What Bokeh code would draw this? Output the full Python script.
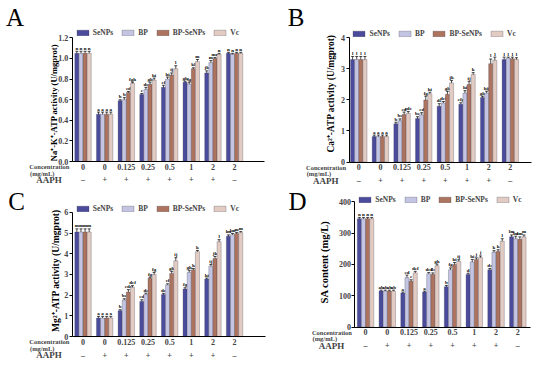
import math
from bokeh.plotting import figure
from bokeh.models import (ColumnDataSource, Whisker, TeeHead, Legend, LegendItem,
                          LinearAxis, FixedTicker, NumeralTickFormatter, Label, Range1d)
from bokeh.layouts import column, row
from bokeh.embed import file_html
from bokeh.resources import INLINE
from bokeh.core.properties import value

series = ["SeNPs", "BP", "BP-SeNPs", "Vc"]
colors = ["#4B4B9B", "#C3C5E2", "#AC735F", "#E2CBC2"]
conc_labels = ["0", "0", "0.125", "0.25", "0.5", "1", "2", "2"]
aaph_labels = ["\u2013", "+", "+", "+", "+", "+", "+", "\u2013"]

# Panel A: Na+-K+-ATP activity
a_senps = [1.05, 0.46, 0.59, 0.65, 0.72, 0.77, 0.86, 1.05]
a_bp = [1.05, 0.46, 0.60, 0.70, 0.80, 0.75, 0.96, 1.04]
a_bpsenps = [1.05, 0.46, 0.67, 0.75, 0.84, 0.90, 1.00, 1.05]
a_vc = [1.05, 0.46, 0.76, 0.79, 0.90, 0.97, 1.04, 1.05]
a_err_senps = [0.02, 0.02, 0.01, 0.01, 0.02, 0.01, 0.02, 0.01]
a_err_bp = [0.02, 0.02, 0.02, 0.02, 0.02, 0.02, 0.02, 0.01]
a_err_bpsenps = [0.02, 0.02, 0.01, 0.02, 0.02, 0.01, 0.01, 0.01]
a_err_vc = [0.02, 0.02, 0.01, 0.02, 0.03, 0.02, 0.01, 0.01]
a_let_senps = ["n", "a", "b", "c", "ef", "gh", "jk", "n"]
a_let_bp = ["n", "a", "b", "de", "hi", "fg", "m", "n"]
a_let_bpsenps = ["n", "a", "cd", "gh", "ij", "kl", "mn", "n"]
a_let_vc = ["n", "a", "fgh", "hi", "l", "m", "n", "n"]

# Panel B: Ca2+-ATP activity
b_senps = [3.30, 0.82, 1.23, 1.40, 1.80, 1.86, 2.08, 3.30]
b_bp = [3.30, 0.82, 1.33, 1.52, 1.90, 2.22, 2.22, 3.35]
b_bpsenps = [3.30, 0.82, 1.53, 2.00, 2.18, 2.50, 3.17, 3.33]
b_vc = [3.30, 0.82, 1.57, 2.20, 2.55, 2.82, 3.28, 3.30]
b_err_senps = [0.10, 0.05, 0.05, 0.06, 0.08, 0.05, 0.04, 0.08]
b_err_bp = [0.10, 0.05, 0.06, 0.07, 0.05, 0.08, 0.06, 0.03]
b_err_bpsenps = [0.10, 0.05, 0.08, 0.12, 0.10, 0.10, 0.15, 0.05]
b_err_vc = [0.10, 0.05, 0.06, 0.05, 0.08, 0.06, 0.10, 0.06]
b_let_senps = ["l", "a", "b", "bc", "de", "efg", "gh", "l"]
b_let_bp = ["l", "a", "bc", "cd", "def", "hi", "hij", "l"]
b_let_bpsenps = ["l", "a", "cd", "fg", "gh", "ij", "l", "l"]
b_let_vc = ["l", "a", "cde", "hi", "jk", "k", "l", "l"]

# Panel C: Mg2+-ATP activity
c_senps = [5.05, 0.90, 1.25, 1.70, 2.03, 2.30, 2.78, 4.85]
c_bp = [5.05, 0.90, 1.77, 2.05, 2.50, 3.10, 3.40, 4.92]
c_bpsenps = [5.05, 0.90, 2.15, 2.82, 3.05, 3.23, 3.77, 4.98]
c_vc = [5.05, 0.90, 2.38, 3.00, 3.66, 4.10, 4.58, 5.02]
c_err_senps = [0.15, 0.08, 0.05, 0.08, 0.06, 0.06, 0.05, 0.06]
c_err_bp = [0.15, 0.08, 0.06, 0.05, 0.05, 0.10, 0.08, 0.06]
c_err_bpsenps = [0.15, 0.08, 0.12, 0.05, 0.10, 0.06, 0.10, 0.05]
c_err_vc = [0.15, 0.08, 0.08, 0.10, 0.15, 0.06, 0.10, 0.05]
c_let_senps = ["m", "a", "b", "cd", "de", "fg", "hi", "lm"]
c_let_bp = ["m", "a", "bc", "de", "ef", "gh", "ij", "lm"]
c_let_bpsenps = ["m", "a", "cde", "fg", "gh", "h", "jk", "m"]
c_let_vc = ["m", "a", "def", "fg", "ij", "k", "l", "m"]

# Panel D: SA content
d_senps = [346, 115, 109, 112, 129, 168, 183, 288]
d_bp = [346, 115, 158, 170, 183, 208, 239, 282]
d_bpsenps = [346, 115, 146, 168, 200, 216, 241, 280]
d_vc = [346, 115, 173, 196, 210, 222, 274, 288]
d_err_senps = [4, 3, 3, 3, 4, 4, 4, 6]
d_err_bp = [4, 3, 8, 4, 6, 8, 5, 8]
d_err_bpsenps = [4, 3, 5, 5, 6, 5, 6, 8]
d_err_vc = [4, 3, 5, 5, 5, 5, 8, 6]
d_let_senps = ["n", "ab", "a", "a", "b", "d", "de", "lm"]
d_let_bp = ["n", "ab", "cd", "def", "fg", "hi", "k", "lm"]
d_let_bpsenps = ["n", "ab", "c", "de", "hi", "j", "k", "lm"]
d_let_vc = ["n", "ab", "def", "gh", "ij", "j", "l", "m"]

SERIF = "Liberation Serif"
offsets = [-0.285, -0.095, 0.095, 0.285]
BAR_W = 0.19
PW = 267
RW = 275.0


def make_panel(letter, ylabel, vals, errs, lets, ymax, yticks, yfmt, geom, PH, RH):
    # geom in reference-panel pixels
    (xl, g0, gs, yt, yb, xr, let_xy, leg_cy, lab_dx, lab_cy, lab_fs) = geom
    SX, SY = PW / RW, PH / RH
    ppu = (yb - yt) / ymax

    def X(rx):
        return (rx - g0) / gs

    def Y(ry):
        return (yb - ry) / ppu

    p = figure(width=PW, height=PH, title=None,
               x_range=Range1d(X(0), X(RW)), y_range=Range1d(Y(RH), Y(0)),
               output_backend="svg", toolbar_location=None, min_border=0)
    p.outline_line_color = None
    p.xgrid.grid_line_color = None
    p.ygrid.grid_line_color = None

    # y axis
    yax = p.yaxis[0]
    yax.fixed_location = X(xl)
    yax.bounds = (0, ymax)
    yax.ticker = FixedTicker(ticks=yticks)
    if yfmt:
        yax.formatter = NumeralTickFormatter(format=yfmt)
    yax.major_label_text_font = SERIF
    yax.major_label_text_font_style = "bold"
    yax.major_label_text_font_size = "8px"
    yax.major_label_standoff = 1
    yax.major_tick_out = 3
    yax.major_tick_in = 0
    yax.minor_tick_line_color = None
    yax.axis_line_color = "black"
    yax.major_tick_line_color = "black"

    # y axis title
    p.add_layout(Label(x=X(xl + lab_dx), y=Y(lab_cy), text=ylabel, angle=math.pi / 2,
                       text_align="center", text_baseline="middle",
                       text_font=SERIF, text_font_style="bold",
                       text_font_size=f"{lab_fs}px", text_color="black"))

    # x axis (concentration) at y = 0
    xax = p.xaxis[0]
    xax.fixed_location = 0
    xax.bounds = (X(xl), X(xr))
    xax.ticker = FixedTicker(ticks=list(range(len(conc_labels))))
    xax.major_label_overrides = {i: t for i, t in enumerate(conc_labels)}
    xax.major_label_text_font = SERIF
    xax.major_label_text_font_style = "bold"
    xax.major_label_text_font_size = "8px"
    xax.major_label_standoff = 2
    xax.major_tick_line_color = None
    xax.major_tick_out = 0
    xax.minor_tick_line_color = None
    xax.axis_line_color = "black"

    # AAPH row
    ax2 = LinearAxis(ticker=FixedTicker(ticks=list(range(len(aaph_labels)))),
                     fixed_location=Y(yb + 13.5),
                     major_label_overrides={i: t for i, t in enumerate(aaph_labels)},
                     axis_line_color=None, major_tick_line_color=None,
                     minor_tick_line_color=None, major_tick_out=0,
                     major_label_standoff=1,
                     major_label_text_font=SERIF, major_label_text_font_style="bold",
                     major_label_text_font_size="8px")
    p.add_layout(ax2, "below")

    items = []
    for k, s in enumerate(series):
        xs = [i + offsets[k] for i in range(len(vals[k]))]
        src = ColumnDataSource(dict(
            x=xs, top=vals[k],
            upper=[v + e for v, e in zip(vals[k], errs[k])],
            lower=[v - e for v, e in zip(vals[k], errs[k])],
            lab=lets[k]))
        r = p.vbar(x="x", top="top", bottom=0, width=BAR_W, source=src,
                   fill_color=colors[k], line_color="#3a3a4a", line_width=0.4,
                   line_alpha=0.7)
        p.add_layout(Whisker(source=src, base="x", upper="upper", lower="lower",
                             line_color="black", line_width=0.7,
                             upper_head=TeeHead(size=3, line_color="black", line_width=0.7),
                             lower_head=TeeHead(size=3, line_color="black", line_width=0.7)))
        p.text(x="x", y="upper", text="lab", source=src, text_align="center",
               text_baseline="bottom", text_font=value(SERIF), text_font_style="bold",
               text_font_size="5px", text_color="black", y_offset=-0.5)
        items.append(LegendItem(label=s, renderers=[r]))

    leg_h = 9
    legend = Legend(items=items, orientation="horizontal",
                    location=((xl + 3) * SX, (RH - leg_cy) * SY - leg_h / 2),
                    margin=0, padding=0, spacing=7, label_standoff=3,
                    glyph_width=15, glyph_height=7, label_height=7, label_width=0,
                    label_text_font=SERIF, label_text_font_style="bold",
                    label_text_font_size="7.5px", border_line_alpha=0,
                    background_fill_alpha=0)
    p.add_layout(legend, "center")

    # panel letter
    p.add_layout(Label(x=X(let_xy[0]), y=Y(let_xy[1]), text=letter,
                       text_align="center", text_baseline="middle",
                       text_font=SERIF, text_font_size="25px", text_color="black"))
    # row captions
    p.add_layout(Label(x=X(xl - 3), y=Y(yb + 5.5), text="Concentration",
                       text_align="right", text_baseline="middle",
                       text_font=SERIF, text_font_style="bold", text_font_size="6.5px"))
    p.add_layout(Label(x=X(xl - 31), y=Y(yb + 12), text="(mg/mL)",
                       text_align="center", text_baseline="middle",
                       text_font=SERIF, text_font_style="bold", text_font_size="6.5px"))
    p.add_layout(Label(x=X(xl - 24), y=Y(yb + 19.5), text="AAPH",
                       text_align="center", text_baseline="middle",
                       text_font=SERIF, text_font_style="bold", text_font_size="9px"))
    return p


# geometry (reference panel pixels): axis x, first group x, group step, y of top tick,
# y of zero, x-axis end, letter centre, legend centre y, y-title dx, y-title centre y, size
TOP_RH, BOT_RH = 193.0, 185.0
TOP_PH, BOT_PH = 185, 177
geomA = (74, 85, 22.3, 39, 168, 272, (15, 18), 34, -19, 106.5, 8.5)
geomB = (84, 94, 22.3, 39, 168.5, 272, (29.5, 18), 35, -19, 97, 9.4)
geomC = (74, 85, 22.3, 28, 158, 273, (16.5, 16.5), 25, -17, 89, 9.6)
geomD = (90, 101, 22.4, 17, 148, 271, (31, 16.5), 15, -31, 80, 10.5)

pA = make_panel("A", "Na\u207a-K\u207a-ATP activity (U/mgprot)",
                [a_senps, a_bp, a_bpsenps, a_vc],
                [a_err_senps, a_err_bp, a_err_bpsenps, a_err_vc],
                [a_let_senps, a_let_bp, a_let_bpsenps, a_let_vc],
                1.2, [0, 0.2, 0.4, 0.6, 0.8, 1.0, 1.2], "0.0", geomA, TOP_PH, TOP_RH)
pB = make_panel("B", "Ca\u00b2\u207a-ATP activity (U/mgprot)",
                [b_senps, b_bp, b_bpsenps, b_vc],
                [b_err_senps, b_err_bp, b_err_bpsenps, b_err_vc],
                [b_let_senps, b_let_bp, b_let_bpsenps, b_let_vc],
                4, [0, 1, 2, 3, 4], None, geomB, TOP_PH, TOP_RH)
pC = make_panel("C", "Mg\u00b2\u207a-ATP activity (U/mgprot)",
                [c_senps, c_bp, c_bpsenps, c_vc],
                [c_err_senps, c_err_bp, c_err_bpsenps, c_err_vc],
                [c_let_senps, c_let_bp, c_let_bpsenps, c_let_vc],
                6, [0, 1, 2, 3, 4, 5, 6], None, geomC, BOT_PH, BOT_RH)
pD = make_panel("D", "SA content (mg/L)",
                [d_senps, d_bp, d_bpsenps, d_vc],
                [d_err_senps, d_err_bp, d_err_bpsenps, d_err_vc],
                [d_let_senps, d_let_bp, d_let_bpsenps, d_let_vc],
                400, [0, 100, 200, 300, 400], None, geomD, BOT_PH, BOT_RH)

layout = column(row(pA, pB, spacing=0), row(pC, pD, spacing=0), spacing=0)
open("out.html", "w").write(file_html(layout, INLINE))
